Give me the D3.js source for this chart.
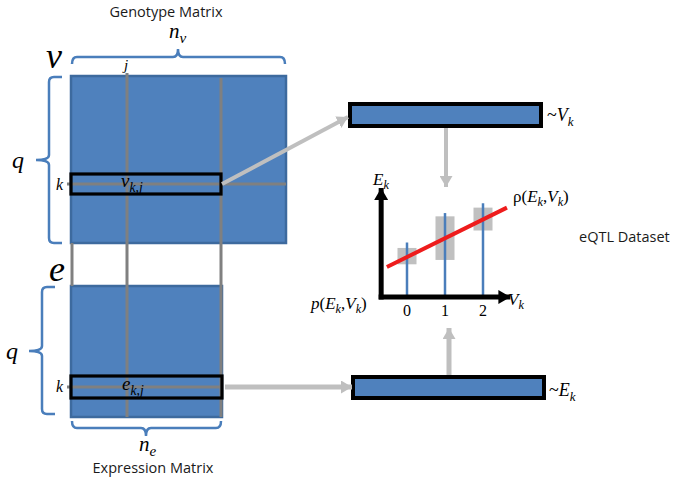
<!DOCTYPE html>
<html><head><meta charset="utf-8">
<script src="https://cdn.jsdelivr.net/npm/d3@7"></script>
<style>body{margin:0;background:#fff}svg{display:block}</style>
</head><body>
<svg id="c" width="673" height="478"></svg>
<script>
// ---- data for the mini eQTL chart ----
const genotypes = [0, 1, 2];
const lineTops = [0.50, 0.77, 0.86];          // blue sample lines (top value)
const boxLow  = [0.30, 0.34, 0.61];           // grey boxes lower value
const boxHigh = [0.45, 0.74, 0.82];           // grey boxes upper value
const fitX = [-0.53, 2.63];                   // red regression line
const fitY = [0.275, 0.82];
const tickLabels = ["0", "1", "2"];
// ---- diagram labels ----
const titles = ["Genotype Matrix", "Expression Matrix", "eQTL Dataset"];

const svg = d3.select("#c");
const BLUE = "#4F81BD", DARK = "#3D6A9E", GRID = "#808080", ARW = "#BFBFBF", BRACE = "#4A7EBB";
const MATH = "'Liberation Serif', serif";
const SANS = "'Open Sans', sans-serif";

const defs = svg.append("defs");
function marker(id, color, w, h) {
  defs.append("marker").attr("id", id).attr("markerUnits", "userSpaceOnUse")
    .attr("viewBox", `0 0 ${w} ${h}`).attr("refX", w).attr("refY", h/2)
    .attr("markerWidth", w).attr("markerHeight", h).attr("orient", "auto")
    .append("path").attr("d", `M0,0L${w},${h/2}L0,${h}Z`).attr("fill", color);
}
marker("ag", ARW, 11, 13);
marker("ab", "#000", 12, 14);

// parts: [text, subscript, italic]
function mathText(x, y, parts, size, anchor) {
  const t = svg.append("text").attr("x", x).attr("y", y)
    .attr("font-family", MATH).attr("font-size", size).attr("text-anchor", anchor || "start");
  parts.forEach(([m, s, it]) => {
    if (m) t.append("tspan").attr("font-style", it === false ? "normal" : "italic").text(m);
    if (s) t.append("tspan").attr("font-style", "italic").attr("font-size", size * 0.72)
      .attr("baseline-shift", -size * 0.26).text(s);
  });
  return t;
}

// ---- matrices ----
const gen = {x0: 71, x1: 286, y0: 76, y1: 243};
const exp = {x0: 71, x1: 222, y0: 286, y1: 417};

svg.append("rect").attr("x", gen.x0).attr("y", gen.y0).attr("width", gen.x1 - gen.x0).attr("height", gen.y1 - gen.y0)
  .attr("fill", BLUE).attr("stroke", DARK).attr("stroke-width", 2.5);
svg.append("rect").attr("x", exp.x0).attr("y", exp.y0).attr("width", exp.x1 - exp.x0).attr("height", exp.y1 - exp.y0)
  .attr("fill", BLUE).attr("stroke", DARK).attr("stroke-width", 2.5);

// vertical grey lines
[[72, gen.y1, exp.y0], [127, 73, exp.y1], [221, 78, exp.y1]].forEach(([x, a, b]) =>
  svg.append("line").attr("x1", x).attr("x2", x).attr("y1", a).attr("y2", b).attr("stroke", GRID).attr("stroke-width", 3));
// horizontal grey lines
svg.append("line").attr("x1", 67).attr("x2", gen.x1).attr("y1", 184).attr("y2", 184).attr("stroke", GRID).attr("stroke-width", 3);
svg.append("line").attr("x1", 67).attr("x2", exp.x1).attr("y1", 387).attr("y2", 387).attr("stroke", GRID).attr("stroke-width", 3);

// black selection rectangles
svg.append("rect").attr("x", 71).attr("y", 174).attr("width", 150).attr("height", 20)
  .attr("fill", "none").attr("stroke", "#000").attr("stroke-width", 3.2);
svg.append("rect").attr("x", 71).attr("y", 376).attr("width", 151).attr("height", 22)
  .attr("fill", "none").attr("stroke", "#000").attr("stroke-width", 3.2);

// braces
function hBrace(x0, x1, y, tipX, dir) { // dir -1 tip up, +1 tip down
  const r = 5, h = 7 * -dir, t = 8 * dir;
  return `M${x0},${y + h}Q${x0},${y} ${x0 + r},${y}L${tipX - r},${y}Q${tipX},${y} ${tipX},${y + t}` +
         `M${tipX},${y + t}Q${tipX},${y} ${tipX + r},${y}L${x1 - r},${y}Q${x1},${y} ${x1},${y + h}`;
}
function vBrace(y0, y1, x, tipY, xEnd, xTip) {
  const r = 5;
  return `M${xEnd},${y0}L${x + r},${y0}Q${x},${y0} ${x},${y0 + r}L${x},${tipY - r}Q${x},${tipY} ${xTip},${tipY}` +
         `M${xTip},${tipY}Q${x},${tipY} ${x},${tipY + r}L${x},${y1 - r}Q${x},${y1} ${x + r},${y1}L${xEnd},${y1}`;
}
function br(d) { svg.append("path").attr("d", d).attr("fill", "none").attr("stroke", BRACE).attr("stroke-width", 2.5); }
br(hBrace(72, 285, 57, 178, -1));
br(hBrace(72, 221, 428, 146, 1));
br(vBrace(77, 243, 49, 160, 62, 36));
br(vBrace(287, 414, 42, 351, 55, 29));

// titles & labels
function sans(x, y, s, anchor) {
  svg.append("text").attr("x", x).attr("y", y).attr("text-anchor", anchor).attr("font-family", SANS)
    .attr("font-size", 14.5).attr("fill", "#1a1a1a").text(s);
}
sans(166, 17, titles[0], "middle");
sans(153, 473, titles[1], "middle");
sans(579, 242, titles[2], "start");

mathText(169, 38, [["n", "v"]], 21);
mathText(139, 451, [["n", "e"]], 21);
mathText(46, 68, [["v"]], 36);
mathText(49, 281, [["e"]], 36);
mathText(12, 168, [["q"]], 24);
mathText(6, 359, [["q"]], 24);
mathText(124, 70, [["j"]], 15);
mathText(56, 190, [["k"]], 16);
mathText(56, 392, [["k"]], 16);
mathText(121, 187, [["v", "k,j"]], 19);
mathText(122, 390, [["e", "k,j"]], 19);

// feature bars on the right
svg.append("rect").attr("x", 350).attr("y", 104).attr("width", 191).attr("height", 22)
  .attr("fill", BLUE).attr("stroke", "#000").attr("stroke-width", 4);
svg.append("rect").attr("x", 353).attr("y", 377).attr("width", 191).attr("height", 21)
  .attr("fill", BLUE).attr("stroke", "#000").attr("stroke-width", 4);
mathText(547, 121, [["~", "", false], ["V", "k"]], 18);
mathText(549, 396, [["~", "", false], ["E", "k"]], 18);

// grey arrows
function arrow(x1, y1, x2, y2, w) {
  svg.append("line").attr("x1", x1).attr("y1", y1).attr("x2", x2).attr("y2", y2)
    .attr("stroke", ARW).attr("stroke-width", w).attr("marker-end", "url(#ag)");
}
arrow(222, 184, 348, 117, 4);
arrow(225, 387, 352, 387, 5);
arrow(446, 128, 446, 187, 4);
arrow(449, 375, 449, 328, 5);

// ---- mini eQTL chart ----
const x = d3.scaleLinear().domain([0, 2]).range([407, 483]);
const y = d3.scaleLinear().domain([0, 1]).range([297, 188]);
const g = svg.append("g");
genotypes.forEach((d, i) => {
  g.append("rect").attr("x", x(d) - 9.5).attr("width", 19)
    .attr("y", y(boxHigh[i])).attr("height", y(boxLow[i]) - y(boxHigh[i])).attr("fill", "#C0C0C0");
});
genotypes.forEach((d, i) => {
  g.append("line").attr("x1", x(d)).attr("x2", x(d)).attr("y1", y(0)).attr("y2", y(lineTops[i]))
    .attr("stroke", "#4A7EBB").attr("stroke-width", 2.5);
});
g.append("line").attr("x1", x(fitX[0])).attr("y1", y(fitY[0])).attr("x2", x(fitX[1])).attr("y2", y(fitY[1]))
  .attr("stroke", "#EE1C1C").attr("stroke-width", 4);
// axes
g.append("line").attr("x1", x(-0.68)).attr("x2", x(-0.68)).attr("y1", y(0) + 2.5).attr("y2", y(1))
  .attr("stroke", "#000").attr("stroke-width", 5).attr("marker-end", "url(#ab)");
g.append("line").attr("x1", x(-0.68) - 2.5).attr("x2", x(2.72)).attr("y1", y(0)).attr("y2", y(0))
  .attr("stroke", "#000").attr("stroke-width", 5).attr("marker-end", "url(#ab)");
genotypes.forEach((d, i) => {
  g.append("text").attr("x", x(d)).attr("y", 316).attr("text-anchor", "middle")
    .attr("font-family", MATH).attr("font-size", 16).text(tickLabels[i]);
});
mathText(373, 185, [["E", "k"]], 17);
mathText(508, 305, [["V", "k"]], 17);
mathText(513, 202, [["ρ(", "", false], ["E", "k"], [",", "", false], ["V", "k"], [")", "", false]], 17);
mathText(311, 309, [["p"], ["(", "", false], ["E", "k"], [",", "", false], ["V", "k"], [")", "", false]], 17);
</script>
</body></html>
